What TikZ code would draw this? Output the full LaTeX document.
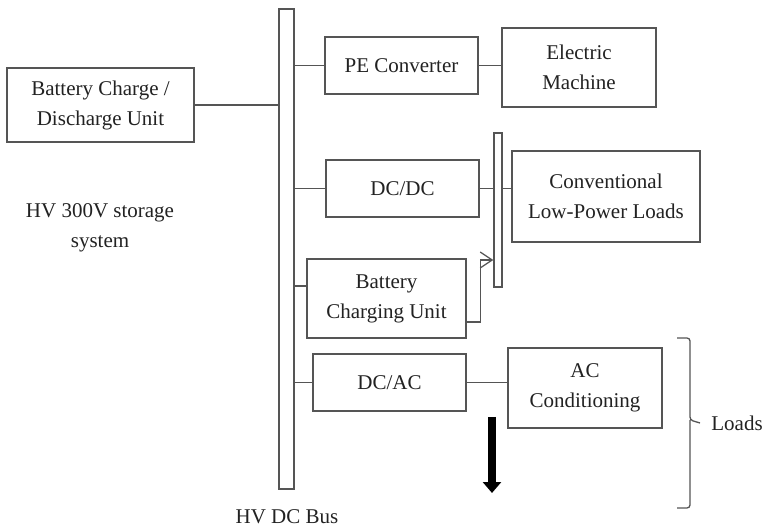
\documentclass[tikz,border=0pt]{standalone}
\usepackage{fontspec}
\setmainfont{Liberation Serif}
\usetikzlibrary{arrows.meta}
\definecolor{diagline}{HTML}{555555}
\definecolor{diagtext}{HTML}{222222}

\begin{document}
\begin{tikzpicture}[x=1pt,y=-1pt,font=\fontsize{21}{30}\selectfont]
  \tikzstyle{block}=[draw=diagline, line width=1.3pt, fill=white, align=center, text=diagtext, inner sep=2pt]
  \tikzstyle{busbar}=[draw=diagline, line width=1.3pt, fill=white, inner sep=0pt]
  \tikzstyle{wire}=[draw=diagline, line width=1.3pt]
  \tikzstyle{label}=[align=center, text=diagtext, inner sep=1pt]

  \path[use as bounding box] (0,0) rectangle (777,529);

  \node[busbar, minimum width=15pt, minimum height=480pt] (bus) at (286.5,249) {};
  \node[busbar, minimum width=8pt, minimum height=154pt] (sbus) at (498,210) {};

  \node[block, minimum width=187pt, minimum height=74pt] (bcd) at (100.5,105) {Battery Charge /\\Discharge Unit};
  \node[block, minimum width=153pt, minimum height=57pt] (pe) at (401.5,65.5) {PE Converter};
  \node[block, minimum width=154pt, minimum height=79pt] (em) at (579,67.5) {Electric\\Machine};
  \node[block, minimum width=153pt, minimum height=57pt] (dcdc) at (402.5,188.5) {DC/DC};
  \node[block, minimum width=188pt, minimum height=91pt] (conv) at (606,196.5) {Conventional\\Low-Power Loads};
  \node[block, minimum width=159pt, minimum height=79pt] (bcu) at (386.5,298.5) {Battery\\Charging Unit};
  \node[block, minimum width=153pt, minimum height=57pt] (dcac) at (389.5,382.5) {DC/AC};
  \node[block, minimum width=154pt, minimum height=80pt] (acc) at (585,388) {AC\\Conditioning};

  \node[label] (storage) at (100,228) {HV 300V storage\\system};
  \node[label] (buslabel) at (287,517) {HV DC Bus};
  \node[label] (loads) at (737,423) {Loads};

  \draw[wire] (bcd.east) -- (bcd.east -| bus.west);
  \draw[wire] (pe.west) -- (pe.west -| bus.east);
  \draw[wire] (pe.east) -- (pe.east -| em.west);
  \draw[wire] (dcdc.west) -- (dcdc.west -| bus.east);
  \draw[wire] (dcdc.east) -- (dcdc.east -| sbus.west);
  \draw[wire] (dcdc.east -| sbus.east) -- (dcdc.east -| conv.west);
  \draw[wire] ([yshift=12.5pt]bcu.west) -- ([yshift=12.5pt]bcu.west -| bus.east);
  \draw[wire, -{Straight Barb[length=12pt,width=16pt]}] ([yshift=-23.5pt]bcu.east) -- ++(14,0) |- ([yshift=-50pt]sbus.west);
  \draw[wire] (dcac.west) -- (dcac.west -| bus.east);
  \draw[wire] (dcac.east) -- (dcac.east -| acc.west);

  \coordinate (flowtop) at (492,417);
  \coordinate (flowend) at (492,493);
  \draw[line width=8pt, -{Triangle[length=11pt,width=18pt]}] (flowtop) -- (flowend);

  \coordinate (bracetop) at (677,338);
  \coordinate (bracebot) at (677,508);
  \coordinate (bracetip) at (700,423);
  \draw[wire, rounded corners=3pt] (bracetop) -| (690,420) -- (bracetip)
    (690,420) -- (690,426) |- (bracebot);
\end{tikzpicture}
\end{document}
